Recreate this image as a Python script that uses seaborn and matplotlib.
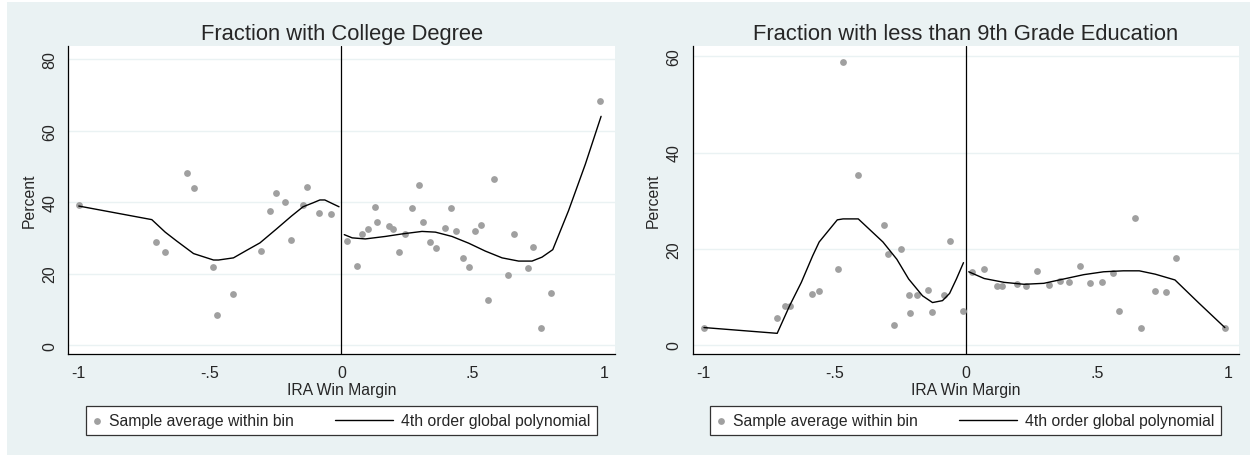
import numpy as np
import pandas as pd
import seaborn as sns
import matplotlib.pyplot as plt
from matplotlib.lines import Line2D
from matplotlib.patches import Rectangle
from matplotlib.legend_handler import HandlerBase

# --- data ---
college_bin_x = [-1.0, -0.707, -0.672, -0.589, -0.561, -0.490, -0.472, -0.411,
                 -0.305, -0.273, -0.249, -0.215, -0.190, -0.147, -0.131, -0.085,
                 -0.039, 0.023, 0.059, 0.077, 0.103, 0.127, 0.137, 0.181, 0.197,
                 0.220, 0.241, 0.270, 0.294, 0.311, 0.337, 0.361, 0.395, 0.417,
                 0.436, 0.463, 0.486, 0.507, 0.533, 0.560, 0.581, 0.633, 0.659,
                 0.710, 0.730, 0.762, 0.800, 0.986]
college_bin_y = [39.1, 28.9, 26.1, 48.1, 44.0, 21.8, 8.4, 14.2,
                 26.4, 37.6, 42.5, 40.0, 29.3, 39.1, 44.3, 37.0,
                 36.7, 29.0, 22.1, 31.1, 32.6, 38.7, 34.5, 33.2, 32.6,
                 26.1, 31.2, 38.3, 44.9, 34.3, 28.8, 27.3, 32.7, 38.4,
                 32.0, 24.3, 21.9, 31.9, 33.5, 12.7, 46.4, 19.7, 31.1,
                 21.5, 27.5, 4.8, 14.5, 68.2]

college_fit_left_x = [-1.0, -0.722, -0.671, -0.627, -0.563, -0.487, -0.468, -0.411,
                      -0.361, -0.310, -0.247, -0.190, -0.146, -0.108, -0.082,
                      -0.063, -0.032, -0.009]
college_fit_left_y = [38.9, 35.1, 31.6, 29.1, 25.6, 23.8, 23.8, 24.4,
                      26.5, 28.6, 32.5, 36.1, 38.7, 39.8, 40.6,
                      40.6, 39.5, 38.7]
college_fit_right_x = [0.011, 0.041, 0.091, 0.168, 0.231, 0.307, 0.358, 0.421,
                       0.485, 0.548, 0.612, 0.675, 0.726, 0.764, 0.805, 0.865,
                       0.929, 0.989]
college_fit_right_y = [30.9, 30.0, 29.7, 30.4, 31.1, 31.8, 31.6, 30.4,
                       28.5, 26.3, 24.4, 23.5, 23.5, 24.6, 26.7, 37.6,
                       50.6, 64.0]

grade9_bin_x = [-0.997, -0.720, -0.689, -0.671, -0.586, -0.558, -0.486, -0.468,
                -0.409, -0.312, -0.294, -0.271, -0.247, -0.215, -0.211, -0.186,
                -0.144, -0.127, -0.083, -0.058, -0.008, 0.026, 0.070, 0.118,
                0.138, 0.197, 0.232, 0.273, 0.318, 0.359, 0.394, 0.436, 0.474,
                0.520, 0.561, 0.585, 0.644, 0.670, 0.721, 0.764, 0.802, 0.988]
grade9_bin_y = [3.6, 5.5, 8.0, 8.1, 10.6, 11.2, 15.7, 58.8,
                35.4, 25.0, 18.9, 4.1, 19.9, 10.3, 6.7, 10.3,
                11.4, 6.9, 10.4, 21.6, 7.1, 15.1, 15.7, 12.3,
                12.3, 12.6, 12.3, 15.3, 12.5, 13.3, 13.0, 16.4, 12.8,
                13.0, 15.0, 7.0, 26.3, 3.5, 11.2, 10.9, 18.1, 3.6]

grade9_fit_left_x = [-0.997, -0.718, -0.671, -0.626, -0.583, -0.558, -0.489, -0.467,
                     -0.409, -0.315, -0.262, -0.217, -0.164, -0.126, -0.088,
                     -0.061, -0.035, -0.008]
grade9_fit_left_y = [3.6, 2.4, 8.1, 13.0, 18.5, 21.4, 26.0, 26.2,
                     26.2, 21.4, 17.8, 13.7, 10.2, 8.8, 9.2,
                     10.7, 13.7, 17.1]
grade9_fit_right_x = [0.012, 0.071, 0.147, 0.223, 0.298, 0.374, 0.450, 0.526,
                      0.601, 0.662, 0.723, 0.798, 0.889, 0.988]
grade9_fit_right_y = [15.2, 13.8, 13.0, 12.6, 12.8, 13.7, 14.6, 15.2,
                      15.4, 15.4, 14.7, 13.5, 8.7, 3.6]

x_ticks = [-1, -0.5, 0, 0.5, 1]
x_tick_labels = ["-1", "-.5", "0", ".5", "1"]
legend_labels = ["Sample average within bin", "4th order global polynomial"]

BG = "#EAF2F3"
DOT = "#A0A0A0"

sns.set_style("white")
plt.rcParams["font.family"] = ["Liberation Sans", "DejaVu Sans"]


class WideLine(HandlerBase):
    # legend line that reaches further left than the (short) handle box
    def create_artists(self, legend, orig_handle, xdescent, ydescent,
                       width, height, fontsize, trans):
        y = height / 2 - ydescent
        seg = Line2D([-xdescent - 36, -xdescent + width], [y, y],
                     color=orig_handle.get_color(),
                     lw=orig_handle.get_linewidth())
        seg.set_transform(trans)
        return [seg]


def draw_panel(ax, bin_x, bin_y, fl_x, fl_y, fr_x, fr_y, title, yticks, ylim):
    fit = pd.DataFrame({
        "x": fl_x + fr_x,
        "y": fl_y + fr_y,
        "side": ["left"] * len(fl_x) + ["right"] * len(fr_x),
    })
    ax.yaxis.grid(True, color=BG, lw=1.0)
    ax.set_axisbelow(True)
    ax.axvline(0, color="black", lw=0.9, zorder=1)
    sns.scatterplot(x=bin_x, y=bin_y, color=DOT, s=24, linewidth=0,
                    ax=ax, legend=False, zorder=2)
    sns.lineplot(data=fit, x="x", y="y", units="side", estimator=None,
                 sort=False, color="black", lw=1.0, ax=ax, legend=False,
                 zorder=3)

    ax.set_xlim(-1.04, 1.042)
    ax.set_ylim(*ylim)
    ax.set_xticks(x_ticks)
    ax.set_xticklabels(x_tick_labels)
    ax.set_yticks(yticks)
    ax.set_yticklabels([str(t) for t in yticks])
    for lab in ax.get_yticklabels():
        lab.set_rotation(90)
        lab.set_va("center")

    ax.tick_params(axis="both", direction="out", length=5, width=0.9,
                   color="black", labelsize=11.5, pad=3)
    sns.despine(ax=ax)
    for s in ("left", "bottom"):
        ax.spines[s].set_color("black")
        ax.spines[s].set_linewidth(0.9)

    ax.set_xlabel("IRA Win Margin", fontsize=11.3, labelpad=1)
    ax.set_ylabel("Percent", fontsize=11.3, labelpad=4)
    ax.set_title(title, fontsize=15.8, pad=5.5)

    handles = [ax.collections[0], ax.lines[1]]
    return handles


fig = plt.figure(figsize=(12.5, 4.56), dpi=100)
fig.add_artist(Rectangle((7 / 1250, 0), 1 - 7 / 1250, 1 - 3.3 / 456,
                         transform=fig.transFigure, facecolor=BG,
                         edgecolor="none", zorder=-10))

ax1 = fig.add_axes([68.3 / 1250, 1 - 355 / 456, 546.7 / 1250, 307.7 / 456])
ax2 = fig.add_axes([692.7 / 1250, 1 - 355 / 456, 546.3 / 1250, 307.7 / 456])

panels = [
    (ax1, college_bin_x, college_bin_y, college_fit_left_x, college_fit_left_y,
     college_fit_right_x, college_fit_right_y,
     "Fraction with College Degree", [0, 20, 40, 60, 80], (-2.5, 83.6), 86),
    (ax2, grade9_bin_x, grade9_bin_y, grade9_fit_left_x, grade9_fit_left_y,
     grade9_fit_right_x, grade9_fit_right_y,
     "Fraction with less than 9th Grade Education", [0, 20, 40, 60],
     (-1.9, 62.1), 710),
]

for ax, bx, by, flx, fly, frx, fry, title, yt, yl, leg_x in panels:
    handles = draw_panel(ax, bx, by, flx, fly, frx, fry, title, yt, yl)
    leg = fig.legend(handles, legend_labels, ncol=2, mode="expand",
                     loc="center",
                     bbox_to_anchor=(leg_x / 1250, 1 - 436.3 / 456,
                                     511 / 1250, 29.6 / 456),
                     borderaxespad=0, fontsize=11.3, frameon=True,
                     fancybox=False, framealpha=1, edgecolor="#333333",
                     facecolor="white", handlelength=0.5,
                     handletextpad=0.5, borderpad=0.45, scatterpoints=1,
                     handler_map={handles[1]: WideLine()})
    leg.get_frame().set_linewidth(0.9)

fig.savefig("out.png", dpi=100, facecolor="white")
